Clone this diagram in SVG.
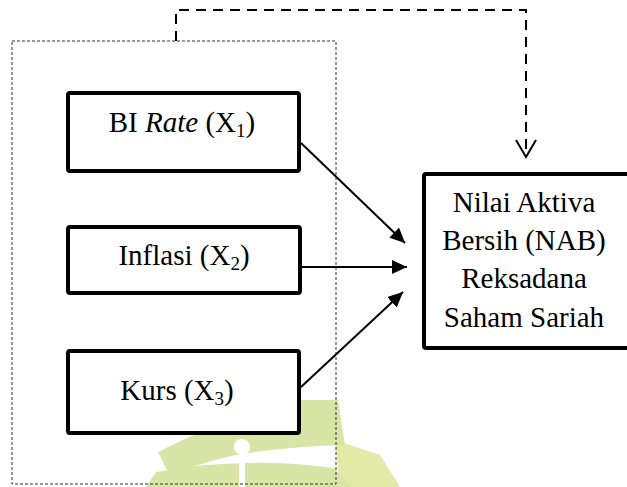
<svg xmlns="http://www.w3.org/2000/svg" width="627" height="487" viewBox="0 0 627 487">
  <style>
    .box { fill: #fff; stroke: #000; stroke-width: 4; }
    .lbl { font-family: "Liberation Serif", "Times New Roman", serif; font-size: 29px; fill: #000; text-anchor: middle; }
    .sub { font-size: 19px; }
    .edge { stroke: #000; stroke-width: 2; fill: none; }
    .dash { stroke: #000; stroke-width: 2; fill: none; stroke-dasharray: 10 7; }
    .frame { stroke: #333; stroke-width: 1; fill: none; stroke-dasharray: 3 2; }
  </style>
  <defs>
    <marker id="ah" markerUnits="userSpaceOnUse" markerWidth="16" markerHeight="14" refX="15" refY="7" orient="auto">
      <path d="M0,0 L15,7 L0,14 z" fill="#000"/>
    </marker>
  </defs>
  <rect width="627" height="487" fill="#fff"/>

  <g id="watermark">
    <path d="M150,487 L160,474 Q195,466 232,464 L232,487 z" fill="#eee7a6"/>
    <path d="M335,440 L380,455 L400,487 L340,487 z" fill="#e3e9a6"/>
    <path d="M158,452 Q220,420 300,400 L338,400 L345,445 Q300,446 255,452 Q210,458 170,476 z" fill="#d8e5a6"/>
    <path d="M146,487 L156,472 Q245,456 334,468 L352,487 z" fill="#d8e5a6"/>
    <circle cx="242" cy="447" r="8" fill="#fff"/>
    <rect x="239" y="450" width="6" height="37" fill="#fff"/>
  </g>

  <g id="group-frame">
    <rect class="frame" x="12" y="41" width="324" height="443"/>
  </g>

  <g id="connectors">
    <line class="edge" x1="301" y1="143" x2="405" y2="243" marker-end="url(#ah)"/>
    <line class="edge" x1="302" y1="267" x2="407" y2="267" marker-end="url(#ah)"/>
    <line class="edge" x1="301" y1="387" x2="403" y2="292" marker-end="url(#ah)"/>
    <polyline class="dash" points="176,41 176,10 526,10 526,156"/>
    <polyline class="edge" points="516,140 526,157 536,140"/>
  </g>

  <g id="node-bi-rate">
    <rect class="box" x="68" y="93" width="231" height="78" rx="2"/>
    <text class="lbl" x="182" y="132">BI <tspan font-style="italic">Rate</tspan> (X<tspan class="sub" dy="5">1</tspan><tspan dy="-5">)</tspan></text>
  </g>

  <g id="node-inflasi">
    <rect class="box" x="68" y="227" width="232" height="66" rx="2"/>
    <text class="lbl" x="184" y="265">Inflasi (X<tspan class="sub" dy="5">2</tspan><tspan dy="-5">)</tspan></text>
  </g>

  <g id="node-kurs">
    <rect class="box" x="68" y="351" width="231" height="82" rx="2"/>
    <text class="lbl" x="177" y="400">Kurs (X<tspan class="sub" dy="5">3</tspan><tspan dy="-5">)</tspan></text>
  </g>

  <g id="node-nab">
    <rect class="box" x="424" y="174" width="210" height="174" rx="2"/>
    <text class="lbl" x="524" y="212">Nilai Aktiva</text>
    <text class="lbl" x="524" y="250">Bersih (NAB)</text>
    <text class="lbl" x="524" y="288">Reksadana</text>
    <text class="lbl" x="524" y="327">Saham Sariah</text>
  </g>
</svg>
